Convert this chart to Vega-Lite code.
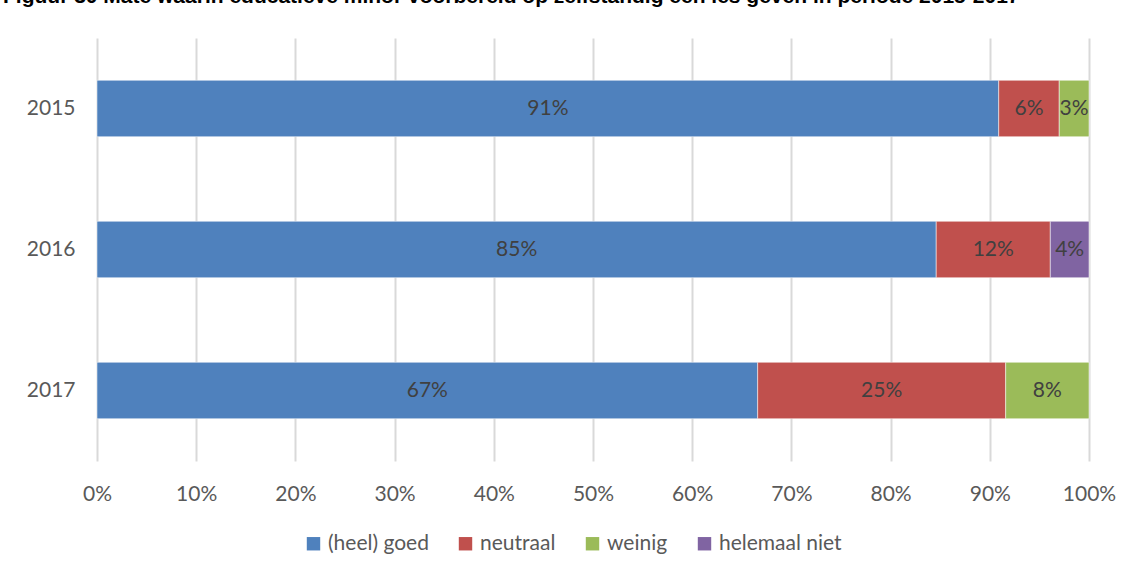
{
  "$schema": "https://vega.github.io/schema/vega-lite/v6.json",
  "width": 992,
  "height": 423,
  "autosize": {"type": "none"},
  "padding": {"left": 97, "top": 38, "right": 43, "bottom": 114},
  "background": "white",
  "title": {
    "text": "Figuur 30 Mate waarin educatieve minor voorbereid op zelfstandig een les geven in periode 2015-2017",
    "anchor": "start",
    "frame": "group",
    "baseline": "bottom",
    "offset": 10,
    "dx": -94,
    "font": "Liberation Sans",
    "fontSize": 21,
    "fontWeight": "bold",
    "color": "#000000"
  },
  "data": {
    "values": [
      {"jaar": "2015", "categorie": "(heel) goed", "k": 1, "waarde": 90.9},
      {"jaar": "2015", "categorie": "neutraal", "k": 2, "waarde": 6.1},
      {"jaar": "2015", "categorie": "weinig", "k": 3, "waarde": 3.0},
      {"jaar": "2016", "categorie": "(heel) goed", "k": 1, "waarde": 84.6},
      {"jaar": "2016", "categorie": "neutraal", "k": 2, "waarde": 11.5},
      {"jaar": "2016", "categorie": "helemaal niet", "k": 4, "waarde": 3.9},
      {"jaar": "2017", "categorie": "(heel) goed", "k": 1, "waarde": 66.6},
      {"jaar": "2017", "categorie": "neutraal", "k": 2, "waarde": 25.0},
      {"jaar": "2017", "categorie": "weinig", "k": 3, "waarde": 8.4}
    ]
  },
  "transform": [
    {"stack": "waarde", "groupby": ["jaar"], "sort": [{"field": "k", "order": "ascending"}], "as": ["x0", "x1"]},
    {"calculate": "(datum.x0 + datum.x1) / 2", "as": "xm"},
    {"calculate": "format(datum.waarde, '.0f') + '%'", "as": "label"}
  ],
  "encoding": {
    "y": {
      "field": "jaar",
      "type": "nominal",
      "sort": ["2015", "2016", "2017"],
      "scale": {"paddingInner": 0.6, "paddingOuter": 0.3},
      "axis": {
        "title": null,
        "domain": false,
        "ticks": false,
        "labelFont": "Lato",
        "labelFontSize": 21,
        "labelColor": "#595959",
        "labelPadding": 22
      }
    }
  },
  "layer": [
    {
      "mark": {"type": "bar", "stroke": "white", "strokeWidth": 0.5},
      "encoding": {
        "x": {
          "field": "x0",
          "type": "quantitative",
          "scale": {"domain": [0, 100], "nice": false},
          "axis": {
            "title": null,
            "values": [0, 10, 20, 30, 40, 50, 60, 70, 80, 90, 100],
            "labelExpr": "datum.value + '%'",
            "labelFlush": false,
            "domain": false,
            "ticks": false,
            "grid": true,
            "gridColor": "#D9D9D9",
            "gridWidth": 2,
            "labelFont": "Lato",
            "labelFontSize": 21,
            "labelColor": "#595959",
            "labelPadding": 22
          }
        },
        "x2": {"field": "x1"},
        "color": {
          "field": "categorie",
          "type": "nominal",
          "scale": {
            "domain": ["(heel) goed", "neutraal", "weinig", "helemaal niet"],
            "range": ["#4F81BD", "#C0504D", "#9BBB59", "#8064A2"]
          },
          "legend": {
            "title": null,
            "orient": "none",
            "legendX": 206,
            "legendY": 495,
            "direction": "horizontal",
            "symbolType": "square",
            "symbolSize": 180,
            "symbolStrokeWidth": 0,
            "labelFont": "Lato",
            "labelFontSize": 21,
            "labelColor": "#595959",
            "columnPadding": 26,
            "labelOffset": 4
          }
        }
      }
    },
    {
      "mark": {"type": "text", "font": "Lato", "fontSize": 21, "color": "#404040"},
      "encoding": {
        "x": {"field": "xm", "type": "quantitative"},
        "text": {"field": "label", "type": "nominal"}
      }
    }
  ],
  "config": {
    "view": {"stroke": null}
  }
}
